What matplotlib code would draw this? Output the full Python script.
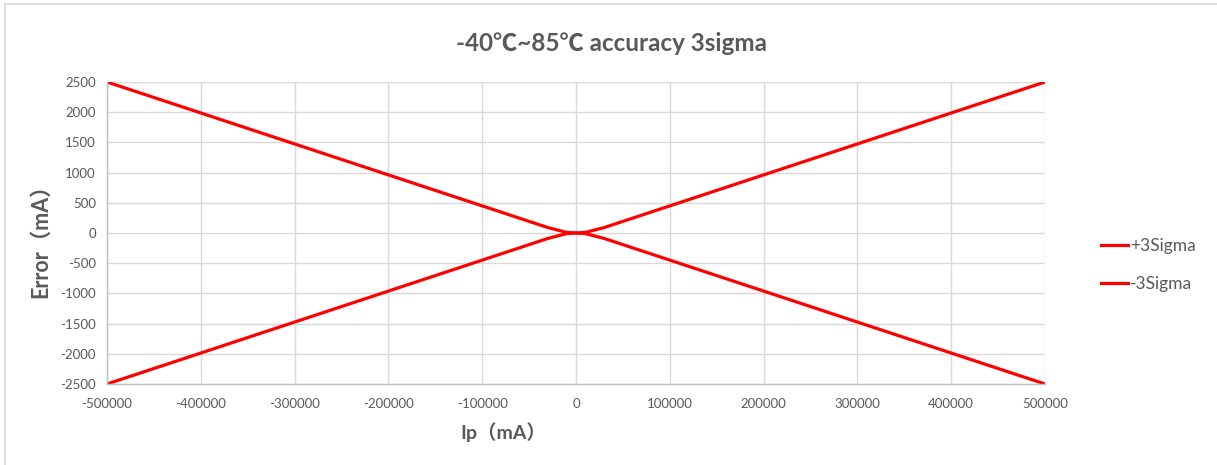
import matplotlib.pyplot as plt
from matplotlib.lines import Line2D

# data
ip = [-500000, -30000, -10000, 0, 10000, 30000, 500000]
plus_3sigma = [2500, 90, 10, 0, 10, 90, 2500]
minus_3sigma = [-2500, -90, -10, 0, -10, -90, -2500]

x_ticks = [-500000, -400000, -300000, -200000, -100000, 0,
           100000, 200000, 300000, 400000, 500000]
y_ticks = list(range(-2500, 2501, 500))

fonts = ['Lato', 'Noto Sans CJK SC', 'DejaVu Sans']
plt.rcParams['font.family'] = fonts
plt.rcParams['axes.unicode_minus'] = False
text_col = '#595959'
grid_col = '#d9d9d9'

fig = plt.figure(figsize=(12.17, 4.65), dpi=100)
ax = fig.add_axes([107 / 1217, 1 - 384 / 465, 938 / 1217, 302 / 465])

ax.plot(ip, plus_3sigma, color='#ff0000', lw=2.3, label='+3Sigma', solid_joinstyle='round')
ax.plot(ip, minus_3sigma, color='#ff0000', lw=2.3, label='-3Sigma', solid_joinstyle='round')

ax.set_xlim(-500000, 500000)
ax.set_ylim(-2500, 2500)
ax.set_xticks(x_ticks)
ax.set_yticks(y_ticks)
ax.grid(True, color=grid_col, lw=1)
ax.set_axisbelow(True)
for s in ['top', 'right']:
    ax.spines[s].set_visible(False)
for s in ['left', 'bottom']:
    ax.spines[s].set_color('#bfbfbf')
    ax.spines[s].set_linewidth(1)
ax.tick_params(length=0, labelsize=9.5, colors=text_col, pad=8)
ax.tick_params(axis='x', pad=10)

fig.text(612 / 1217, 1 - 43 / 465, '-40℃~85℃ accuracy 3sigma', ha='center', va='center',
         fontsize=17.5, fontweight='bold', color=text_col)
fig.text(503 / 1217, 1 - 432 / 465, 'Ip（mA）', ha='center', va='center',
         fontsize=14, fontweight='bold', color=text_col)
fig.text(41 / 1217, 1 - 236 / 465, 'Error（mA）', ha='center', va='center', rotation=90,
         fontsize=15.5, fontweight='bold', color=text_col)

handles = [Line2D([], [], color='#ff0000', lw=2.3) for _ in range(2)]
leg = fig.legend(handles, ['+3Sigma', '-3Sigma'], loc='center left',
                 bbox_to_anchor=(1085 / 1217, 1 - 265 / 465), frameon=False,
                 fontsize=12.5, handlelength=1.6, handletextpad=0.1, labelspacing=1.25)
for t in leg.get_texts():
    t.set_color(text_col)

# chart border lines (top and left)
fig.add_artist(Line2D([5 / 1217, 5 / 1217], [0, 1 - 4 / 465], color='#d9d9d9', lw=1.2))
fig.add_artist(Line2D([5 / 1217, 1], [1 - 4 / 465, 1 - 4 / 465], color='#d9d9d9', lw=1.2))

fig.savefig('out.png', dpi=100)
